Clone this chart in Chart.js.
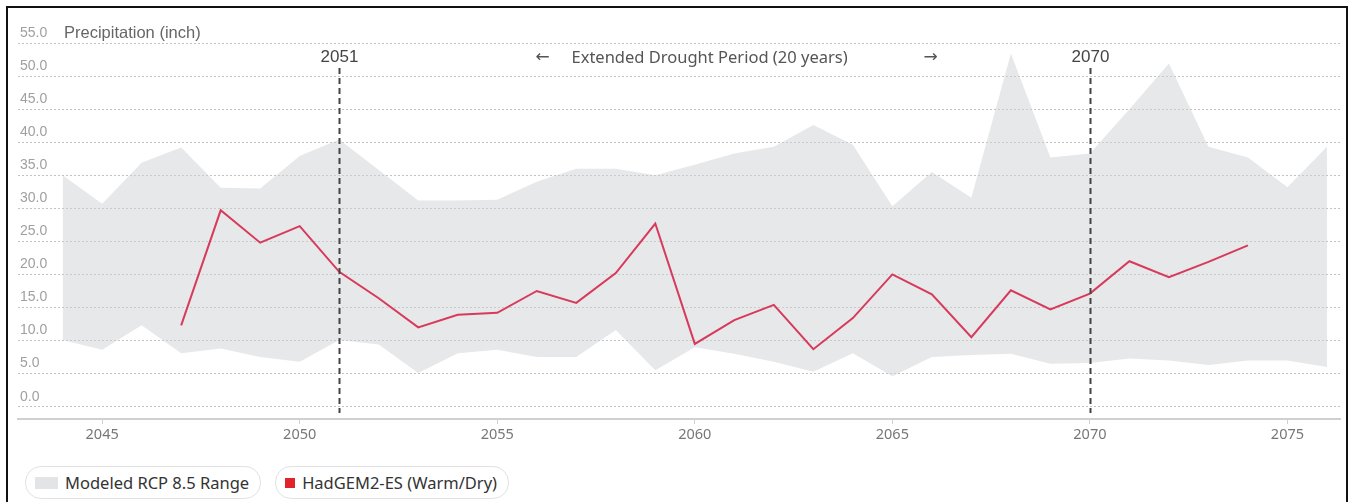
<!DOCTYPE html>
<html>
<head>
<meta charset="utf-8">
<script src="https://cdn.jsdelivr.net/npm/chart.js@4.4.1/dist/chart.umd.min.js"></script>
<style>
  html, body { margin: 0; padding: 0; background: #fff; }
  body { width: 1354px; height: 502px; position: relative; overflow: hidden; font-family: "Noto Sans", sans-serif; }
  #frame { position: absolute; left: 6px; top: 6px; width: 1338px; height: 520px; border: 2px solid #111; pointer-events: none; }
  #wrap { position: absolute; left: 0; top: 0; width: 1354px; height: 455px; }
  #legend { position: absolute; left: 25px; top: 466px; display: flex; gap: 14px; }
  .item { display: flex; align-items: center; height: 31px; padding: 0 11px 0 9px; border: 1px solid #e2e2e2; border-radius: 16px; font-size: 16.5px; color: #333; }
  .sw { display: inline-block; margin-right: 7px; }
</style>
</head>
<body>
<div id="wrap"><canvas id="chart"></canvas></div>
<div id="legend"></div>
<div id="frame"></div>
<script>
// modelled range, one value per year
const rangeYears = [2044, 2045, 2046, 2047, 2048, 2049, 2050, 2051, 2052, 2053, 2054,
  2055, 2056, 2057, 2058, 2059, 2060, 2061, 2062, 2063, 2064, 2065, 2066, 2067, 2068,
  2069, 2070, 2071, 2072, 2073, 2074, 2075, 2076];
const rangeUpper = [35.0, 30.7, 36.9, 39.2, 33.1, 33.0, 37.9, 40.4, 35.8, 31.2, 31.2,
  31.3, 34.0, 36.0, 36.0, 35.0, 36.6, 38.3, 39.3, 42.6, 39.6, 30.3, 35.5, 31.6, 53.4,
  37.7, 38.3, 45.0, 51.9, 39.3, 37.7, 33.2, 39.3];
const rangeLower = [10.1, 8.6, 12.3, 8.1, 8.8, 7.5, 6.8, 10.1, 9.4, 5.1, 8.1,
  8.6, 7.5, 7.5, 11.6, 5.5, 9.0, 8.0, 6.8, 5.3, 8.1, 4.6, 7.5, 7.8, 8.0,
  6.5, 6.6, 7.3, 7.0, 6.3, 7.0, 7.0, 6.0];

// HadGEM2-ES run
const hadYears = [2047, 2048, 2049, 2050, 2051, 2052, 2053, 2054, 2055, 2056, 2057,
  2058, 2059, 2060, 2061, 2062, 2063, 2064, 2065, 2066, 2067, 2068, 2069, 2070, 2071,
  2072, 2073, 2074];
const hadValues = [12.3, 29.7, 24.8, 27.3, 20.4, 16.4, 12.0, 13.9, 14.2, 17.5, 15.7,
  20.2, 27.7, 9.5, 13.1, 15.4, 8.7, 13.4, 20.0, 17.0, 10.5, 17.6, 14.7, 17.1, 22.0,
  19.6, 21.9, 24.4];

const xTicks = [2045, 2050, 2055, 2060, 2065, 2070, 2075];
const yTicks = [0, 5, 10, 15, 20, 25, 30, 35, 40, 45, 50, 55];
const markerYears = [2051, 2070];
const rangeLabel = "Modeled RCP 8.5 Range";
const hadLabel = "HadGEM2-ES (Warm/Dry)";
const yTitle = "Precipitation (inch)";
const droughtLabel = "Extended Drought Period (20 years)";

const bandColor = "rgba(205, 209, 213, 0.5)";
const lineColor = "#d83a5c";

const toPoints = (xs, ys) => xs.map((x, i) => ({ x: x, y: ys[i] }));

const annotations = {
  id: "annotations",
  afterDatasetsDraw(chart) {
    const { ctx, chartArea, scales: { x } } = chart;
    ctx.save();
    markerYears.forEach(function (yr) {
      const px = Math.round(x.getPixelForValue(yr)) + 0.5;
      ctx.strokeStyle = "#444";
      ctx.lineWidth = 2;
      ctx.setLineDash([6, 4]);
      ctx.beginPath();
      ctx.moveTo(px, chartArea.top + 25);
      ctx.lineTo(px, chartArea.bottom - 6);
      ctx.stroke();
      ctx.setLineDash([]);
      ctx.fillStyle = "#444";
      ctx.font = '17px "Liberation Sans"';
      ctx.textAlign = "center";
      ctx.textBaseline = "middle";
      ctx.fillText(String(yr), px, chartArea.top + 14);
    });
    const mid = (x.getPixelForValue(markerYears[0]) + x.getPixelForValue(markerYears[1])) / 2;
    ctx.fillStyle = "#555";
    ctx.font = '16.5px "Noto Sans"';
    ctx.textAlign = "center";
    ctx.textBaseline = "middle";
    ctx.fillText(droughtLabel, mid - 5, chartArea.top + 15);
    ctx.font = '17px "DejaVu Sans"';
    ctx.fillText("\u2190", mid - 172, chartArea.top + 15);
    ctx.fillText("\u2192", mid + 216, chartArea.top + 15);
    // y title next to top tick
    ctx.fillStyle = "#666";
    ctx.font = '16.5px "Liberation Sans"';
    ctx.textAlign = "left";
    ctx.fillText(yTitle, chartArea.left + 46, chartArea.top - 10);
    ctx.restore();
  },
};

document.addEventListener("DOMContentLoaded", function () {
  const ctx = document.getElementById("chart").getContext("2d");
  new Chart(ctx, {
    type: "line",
    data: {
      datasets: [
        {
          label: rangeLabel,
          data: toPoints(rangeYears, rangeUpper),
          borderWidth: 0,
          pointRadius: 0,
          backgroundColor: bandColor,
          fill: "+1",
          order: 2,
        },
        {
          label: rangeLabel + " low",
          data: toPoints(rangeYears, rangeLower),
          borderWidth: 0,
          pointRadius: 0,
          fill: false,
          order: 2,
        },
        {
          label: hadLabel,
          data: toPoints(hadYears, hadValues),
          borderColor: lineColor,
          borderWidth: 2,
          pointRadius: 0,
          fill: false,
          tension: 0,
          order: 1,
        },
      ],
    },
    options: {
      responsive: true,
      maintainAspectRatio: false,
      animation: false,
      layout: { padding: { left: 18, right: 14, top: 43, bottom: 0 } },
      plugins: {
        legend: { display: false },
        tooltip: { enabled: false },
      },
      scales: {
        x: {
          type: "linear",
          min: 2042.87,
          max: 2076.33,
          afterBuildTicks: function (s) { s.ticks = xTicks.map(v => ({ value: v })); },
          afterFit: function (s) { s.height = 36; },
          border: { display: true, color: "#d0d0d0", width: 2 },
          grid: { display: true, drawOnChartArea: false, drawTicks: true, tickLength: 5, color: "#d0d0d0" },
          ticks: {
            color: "#777",
            padding: 2,
            font: { family: "Noto Sans", size: 14.5 },
            callback: v => String(v),
          },
        },
        y: {
          min: -1.86,
          max: 55,
          afterBuildTicks: function (s) { s.ticks = yTicks.map(v => ({ value: v })); },
          afterFit: function (s) { s.width = 0; },
          border: { display: false, dash: [2, 2] },
          grid: { color: "#c2c2c2", lineWidth: 1, drawTicks: false },
          ticks: {
            mirror: true,
            padding: 2,
            labelOffset: -10,
            color: "#a0a0a0",
            font: { family: "Liberation Sans", size: 14 },
            callback: v => Number(v).toFixed(1),
          },
        },
      },
    },
    plugins: [annotations],
  });

  // pill legend
  const legend = document.getElementById("legend");
  [
    { text: rangeLabel, w: 23, h: 12, color: "#e2e4e6" },
    { text: hadLabel, w: 10, h: 10, color: "#e1242a" },
  ].forEach(function (it) {
    const el = document.createElement("div");
    el.className = "item";
    const sw = document.createElement("span");
    sw.className = "sw";
    sw.style.width = it.w + "px";
    sw.style.height = it.h + "px";
    sw.style.background = it.color;
    el.appendChild(sw);
    el.appendChild(document.createTextNode(it.text));
    legend.appendChild(el);
  });
});
</script>
</body>
</html>
